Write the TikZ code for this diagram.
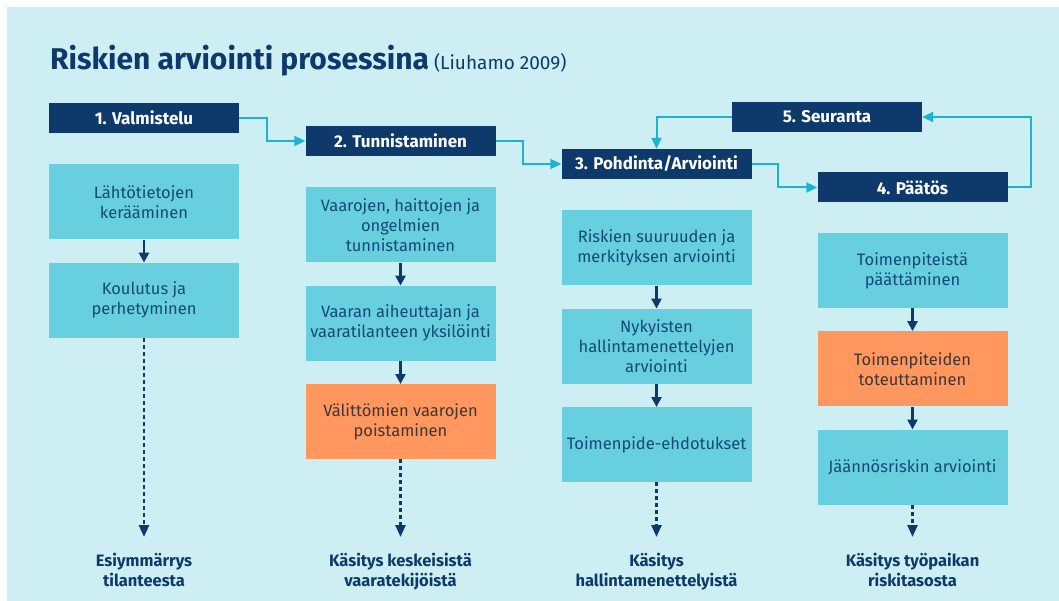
\documentclass[tikz,border=0pt]{standalone}
\usepackage{fontspec}
\setmainfont{Fira Sans}
\usetikzlibrary{arrows.meta,positioning,calc}
\definecolor{navy}{HTML}{0D3A6B}
\definecolor{bgcyan}{HTML}{CDEFF4}
\definecolor{boxcyan}{HTML}{67CFDE}
\definecolor{boxtext}{HTML}{124A78}
\definecolor{actorange}{HTML}{FF975E}
\definecolor{acttext}{HTML}{3E3638}
\definecolor{linecyan}{HTML}{1DB3CB}

\begin{document}
\begin{tikzpicture}[x=1pt,y=-1pt,node distance=23pt,
  header/.style={rectangle,fill=navy,text=white,font=\fontsize{17}{20}\selectfont\bfseries,minimum width=190pt,minimum height=30pt,inner sep=0pt},
  taskbox/.style={rectangle,fill=boxcyan,text=boxtext,font=\fontsize{16.5}{20}\selectfont,align=center,minimum width=190pt,minimum height=75pt,inner sep=0pt},
  actbox/.style={taskbox,fill=actorange,text=acttext},
  result/.style={text=navy,font=\fontsize{16.5}{20}\selectfont\bfseries,align=center,inner sep=0pt,anchor=north},
  flow/.style={draw=linecyan,line width=2pt,-{Triangle[length=11pt,width=10pt]}},
  substep/.style={draw=navy,line width=2.5pt,-{Triangle[length=10pt,width=10pt]}},
  outcome/.style={draw=navy,line width=2.5pt,dash pattern=on 4pt off 3pt,-{Triangle[length=12pt,width=10pt]}}]
% page border and background
\fill[white] (0,0) rectangle (1059,601);
\fill[bgcyan] (7,7) rectangle (1059,601);

% title
\node[anchor=base west,inner sep=0pt,text=navy,name=title] at (50,70) {{\fontsize{30}{34}\selectfont\bfseries Riskien arviointi prosessina}\hspace{5pt}{\fontsize{19}{22}\selectfont(Liuhamo 2009)}};

% phases of the process
\node[header,name=valmistelu] at (144,118) {1. Valmistelu};
\node[header,name=tunnistus] at (400.5,141) {2. Tunnistaminen};
\node[header,name=pohdinta] at (656.5,164) {3. Pohdinta/Arviointi};
\node[header,name=paatos] at (912.5,187.5) {4. Päätös};
\node[header,name=seuranta] at (827,117) {5. Seuranta};

% tasks of each phase
\node[taskbox,below=31pt of valmistelu,name=lahto] {Lähtötietojen\\kerääminen};
\node[taskbox,below=of lahto,name=koulutus] {Koulutus ja\\perhetyminen};

\node[taskbox,below=31pt of tunnistus,name=vaarat] {Vaarojen, haittojen ja\\ongelmien\\tunnistaminen};
\node[taskbox,below=of vaarat,name=aiheuttaja] {Vaaran aiheuttajan ja\\vaaratilanteen yksilöinti};
\node[actbox,below=of aiheuttaja,name=poisto] {Välittömien vaarojen\\poistaminen};

\node[taskbox,below=31pt of pohdinta,name=suuruus] {Riskien suuruuden ja\\merkityksen arviointi};
\node[taskbox,below=of suuruus,name=hallinta] {Nykyisten\\hallintamenettelyjen\\arviointi};
\node[taskbox,below=of hallinta,name=ehdotus] {Toimenpide-ehdotukset};

\node[taskbox,below=30pt of paatos,name=paattaminen] {Toimenpiteistä\\päättäminen};
\node[actbox,below=of paattaminen,name=toteutus] {Toimenpiteiden\\toteuttaminen};
\node[taskbox,below=of toteutus,name=jaannos] {Jäännösriskin arviointi};

% results
\node[result,name=esiymmarrys] at (144,553) {Esiymmärrys\\tilanteesta};
\node[result,name=vaaratekijat] at (400.5,553) {Käsitys keskeisistä\\vaaratekijöistä};
\node[result,name=menettelyt] at (656.5,553) {Käsitys\\hallintamenettelyistä};
\node[result,name=riskitaso] at (912.5,553) {Käsitys työpaikan\\riskitasosta};

% arrows between phases
\draw[flow] (valmistelu.east) -- ++(28,0) |- (tunnistus.west);
\draw[flow] (tunnistus.east) -- ++(27,0) |- (pohdinta.west);
\draw[flow] (pohdinta.east) -- ++(26,0) |- (paatos.west);
\draw[flow] (paatos.east) -- ++(23,0) |- (seuranta.east);
\draw[flow] (seuranta.west) -| (pohdinta.north);

% arrows inside the columns
\draw[substep] (lahto) -- (koulutus);
\draw[substep] (vaarat) -- (aiheuttaja);
\draw[substep] (aiheuttaja) -- (poisto);
\draw[substep] (suuruus) -- (hallinta);
\draw[substep] (hallinta) -- (ehdotus);
\draw[substep] (paattaminen) -- (toteutus);
\draw[substep] (toteutus) -- (jaannos);

% arrows to the results
\draw[outcome,shorten >=16pt] (koulutus) -- (esiymmarrys);
\draw[outcome,shorten >=16pt] (poisto) -- (vaaratekijat);
\draw[outcome,shorten >=16pt] (ehdotus) -- (menettelyt);
\draw[outcome,shorten >=16pt] (jaannos) -- (riskitaso);
\end{tikzpicture}
\end{document}
